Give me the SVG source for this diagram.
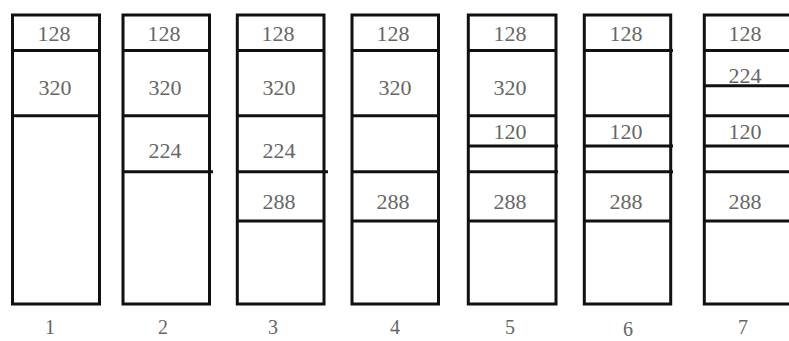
<svg xmlns="http://www.w3.org/2000/svg" width="789" height="341" viewBox="0 0 789 341">
<style>
.box{fill:#fff;stroke:#111;stroke-width:3}
.ln{stroke:#111;stroke-width:3}
.v{font-family:"Liberation Serif","Times New Roman",serif;font-size:22px;fill:#666;text-anchor:middle}
.n{font-family:"Liberation Serif","Times New Roman",serif;font-size:20px;fill:#666;text-anchor:middle}
</style>
<rect width="789" height="341" fill="#fff"/>
<g id="col1">
<rect class="box" x="12.5" y="15" width="87" height="289"/>
<line class="ln" x1="12.5" y1="50.5" x2="101" y2="50.5"/>
<line class="ln" x1="12.5" y1="115.7" x2="99.5" y2="115.7"/>
<text class="v" x="54" y="40.5">128</text>
<text class="v" x="55" y="94.5">320</text>
<text class="n" x="50" y="334">1</text>
</g>
<g id="col2">
<rect class="box" x="123" y="15" width="86.5" height="289"/>
<line class="ln" x1="123" y1="50.5" x2="211" y2="50.5"/>
<line class="ln" x1="123" y1="115.7" x2="209.5" y2="115.7"/>
<line class="ln" x1="123" y1="171.7" x2="213" y2="171.7"/>
<text class="v" x="164" y="40.5">128</text>
<text class="v" x="165" y="94.5">320</text>
<text class="v" x="165" y="157.5">224</text>
<text class="n" x="163" y="334">2</text>
</g>
<g id="col3">
<rect class="box" x="237.3" y="15" width="86.7" height="289"/>
<line class="ln" x1="237.3" y1="50.5" x2="325" y2="50.5"/>
<line class="ln" x1="237.3" y1="115.7" x2="324" y2="115.7"/>
<line class="ln" x1="237.3" y1="171.7" x2="328" y2="171.7"/>
<line class="ln" x1="237.3" y1="221" x2="324" y2="221"/>
<text class="v" x="278" y="40.5">128</text>
<text class="v" x="279" y="94.5">320</text>
<text class="v" x="279" y="157.5">224</text>
<text class="v" x="279" y="209">288</text>
<text class="n" x="273" y="334">3</text>
</g>
<g id="col4">
<rect class="box" x="352" y="15" width="86.5" height="289"/>
<line class="ln" x1="352" y1="50.5" x2="439.5" y2="50.5"/>
<line class="ln" x1="352" y1="115.7" x2="438.5" y2="115.7"/>
<line class="ln" x1="352" y1="171.7" x2="440" y2="171.7"/>
<line class="ln" x1="352" y1="221" x2="438.5" y2="221"/>
<text class="v" x="393" y="40.5">128</text>
<text class="v" x="395" y="94.5">320</text>
<text class="v" x="393" y="209">288</text>
<text class="n" x="395" y="334">4</text>
</g>
<g id="col5">
<rect class="box" x="468.3" y="15" width="87.7" height="289"/>
<line class="ln" x1="468.3" y1="50.5" x2="557" y2="50.5"/>
<line class="ln" x1="468.3" y1="115.7" x2="556" y2="115.7"/>
<line class="ln" x1="468.3" y1="146" x2="558" y2="146"/>
<line class="ln" x1="468.3" y1="171.7" x2="558" y2="171.7"/>
<line class="ln" x1="468.3" y1="221" x2="556" y2="221"/>
<text class="v" x="510" y="40.5">128</text>
<text class="v" x="510" y="94.5">320</text>
<text class="v" x="510" y="139">120</text>
<text class="v" x="510" y="209">288</text>
<text class="n" x="510" y="334">5</text>
</g>
<g id="col6">
<rect class="box" x="584.3" y="15" width="86.4" height="289"/>
<line class="ln" x1="584.3" y1="50.5" x2="673" y2="50.5"/>
<line class="ln" x1="584.3" y1="115.7" x2="670.7" y2="115.7"/>
<line class="ln" x1="584.3" y1="146" x2="673" y2="146"/>
<line class="ln" x1="584.3" y1="171.7" x2="673" y2="171.7"/>
<line class="ln" x1="584.3" y1="221" x2="670.7" y2="221"/>
<text class="v" x="626" y="40.5">128</text>
<text class="v" x="626" y="139">120</text>
<text class="v" x="626" y="209">288</text>
<text class="n" x="628" y="336">6</text>
</g>
<g id="col7">
<rect class="box" x="704.3" y="15" width="88" height="289"/>
<line class="ln" x1="704.3" y1="50.5" x2="792" y2="50.5"/>
<line class="ln" x1="704.3" y1="85.7" x2="792" y2="85.7"/>
<line class="ln" x1="704.3" y1="115.7" x2="792" y2="115.7"/>
<line class="ln" x1="704.3" y1="146" x2="792" y2="146"/>
<line class="ln" x1="704.3" y1="171.7" x2="792" y2="171.7"/>
<line class="ln" x1="704.3" y1="221" x2="792" y2="221"/>
<text class="v" x="745" y="40.5">128</text>
<text class="v" x="745" y="83">224</text>
<text class="v" x="745" y="139">120</text>
<text class="v" x="745" y="209">288</text>
<text class="n" x="743" y="334">7</text>
</g>
</svg>
